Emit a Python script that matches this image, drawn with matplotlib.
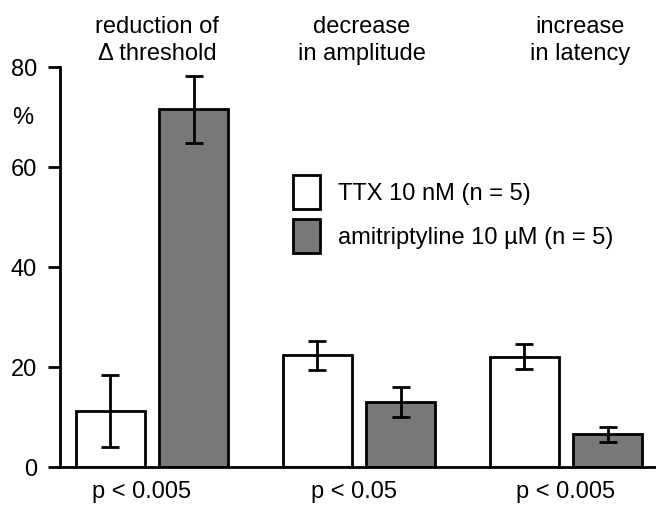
import matplotlib
matplotlib.use("Agg")
import matplotlib.pyplot as plt
import matplotlib.transforms as mtransforms
from matplotlib.patches import Patch
import numpy as np

plt.rcParams['font.family'] = ['Liberation Sans', 'DejaVu Sans']

categories = ['reduction of\n\u0394 threshold', 'decrease\nin amplitude', 'increase\nin latency']
p_labels = ['p < 0.005', 'p < 0.05', 'p < 0.005']
series_names = ['TTX 10 nM (n = 5)', 'amitriptyline 10 \u00b5M (n = 5)']
ttx_values = [11.2, 22.4, 22.1]
ttx_errors = [7.2, 2.9, 2.5]
ami_values = [71.6, 13.1, 6.6]
ami_errors = [6.7, 3.0, 1.5]
yticks = [0, 20, 40, 60, 80]

W, H = 656, 505
fig = plt.figure(figsize=(W / 100, H / 100), dpi=100)
ax = fig.add_axes([60 / W, (H - 467) / H, (W - 60) / W, (467 - 67) / H])

FS = 17
LW = 2.0
x = np.arange(len(categories))
bw = 0.333
off = 0.2005
grey = '#787878'

ax.bar(x - off, ttx_values, bw, color='white', edgecolor='black', linewidth=LW, zorder=2)
ax.bar(x + off, ami_values, bw, color=grey, edgecolor='black', linewidth=LW, zorder=2)
ax.errorbar(x - off, ttx_values, yerr=ttx_errors, fmt='none', ecolor='black',
            elinewidth=LW, capsize=6.5, capthick=LW, zorder=3)
ax.errorbar(x + off, ami_values, yerr=ami_errors, fmt='none', ecolor='black',
            elinewidth=LW, capsize=6.5, capthick=LW, zorder=3)

ax.set_xlim(-92 / 207, (656 - 152) / 207)
ax.set_ylim(0, 80)
ax.set_yticks(yticks)
ax.set_xticks([])
ax.tick_params(axis='y', direction='out', length=8.6, width=LW, pad=8, labelsize=FS)
for s in ['top', 'right']:
    ax.spines[s].set_visible(False)
for s in ['left', 'bottom']:
    ax.spines[s].set_linewidth(LW)

# % label
trans_y = mtransforms.blended_transform_factory(ax.transAxes, ax.transData)
ax.text(-37 / 596, 69.8, '%', transform=trans_y, ha='center', va='center', fontsize=FS)

# Top category labels
title_off = [0.024, 0.015, 0.068]
trans_top = mtransforms.blended_transform_factory(ax.transData, fig.transFigure)
for i, c in enumerate(categories):
    fig.text(x[i] + title_off[i], 1 - 40.5 / H, c, transform=trans_top, ha='center',
             va='center', fontsize=FS, linespacing=1.3)

# p labels
p_off = [-0.05, -0.024, 0.0]
for i, p in enumerate(p_labels):
    fig.text(x[i] + p_off[i], 1 - 503 / H, p, transform=trans_top, ha='center',
             va='bottom', fontsize=FS)

handles = [Patch(facecolor='white', edgecolor='black', linewidth=LW),
           Patch(facecolor=grey, edgecolor='black', linewidth=LW)]
fig.legend(handles, series_names, loc='upper left', bbox_to_anchor=(293 / W, 1 - 175 / H),
           frameon=False, fontsize=FS, borderpad=0, borderaxespad=0,
           handlelength=1.14, handleheight=1.84, handletextpad=0.76, labelspacing=0.42)

fig.savefig('out.png', dpi=100)
